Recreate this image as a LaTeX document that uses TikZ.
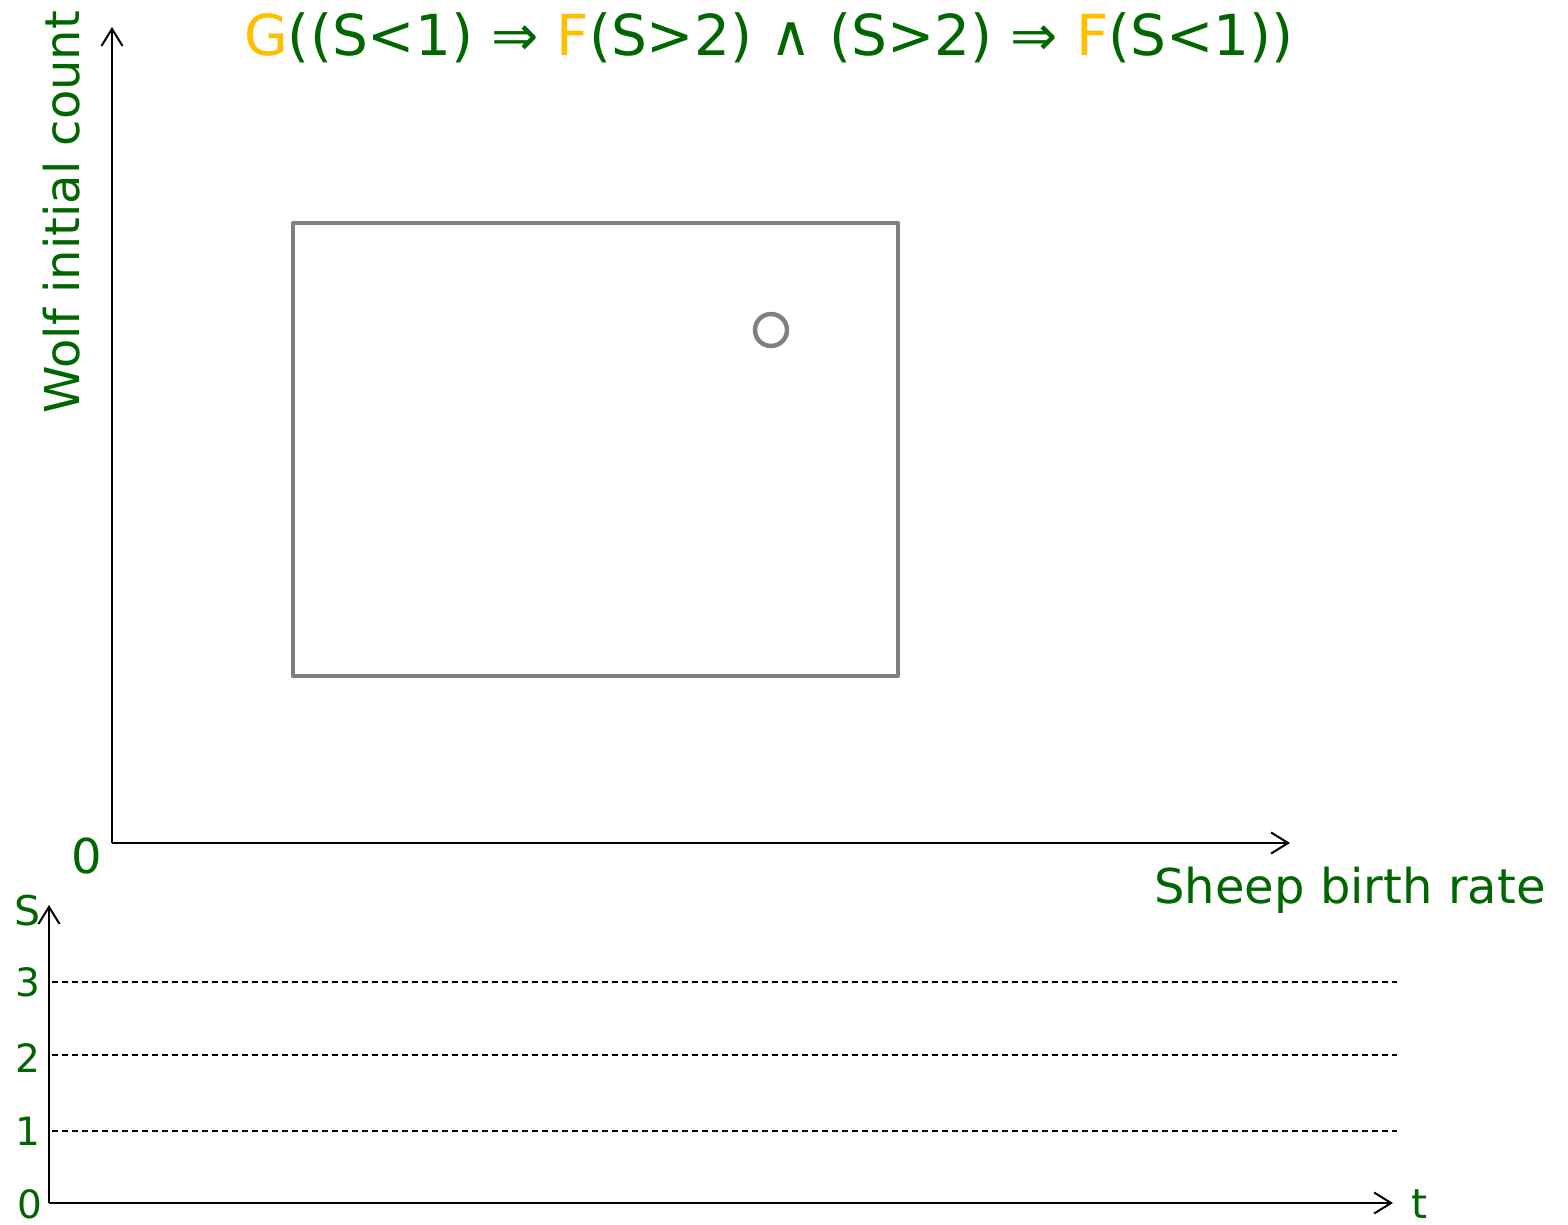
\documentclass[tikz,border=0pt]{standalone}
\usepackage{fontspec}
\setmainfont{DejaVu Sans}
\usetikzlibrary{arrows.meta}
\definecolor{lblgreen}{HTML}{006600}
\definecolor{tlorange}{HTML}{FFBF00}
\definecolor{boxgray}{HTML}{808080}
\begin{document}
\begin{tikzpicture}[x=1pt,y=-1pt,
  axis/.style={line width=2pt,-{Straight Barb[length=17pt,width=21pt]}},
  grid/.style={line width=1.2pt,dash pattern=on 6pt off 4pt},
  biglbl/.style={text=lblgreen,inner sep=0pt,font=\fontsize{48}{58}\selectfont},
  smalllbl/.style={text=lblgreen,inner sep=0pt,font=\fontsize{39}{47}\selectfont},
  midlbl/.style={text=lblgreen,inner sep=0pt,font=\fontsize{41}{49}\selectfont},
  region/.style={draw=boxgray,line width=4.5pt,line join=round,outer sep=0pt}]
\useasboundingbox (0,0) rectangle (1568,1225);
% main axes
\coordinate (O) at (112,843);
\coordinate (Ytop) at (112,27);
\coordinate (Xend) at (1290,843);
\draw[axis] (O) -- (Ytop);
\draw[axis] (O) -- (Xend);
% title
\node[anchor=base,inner sep=0pt,text=lblgreen,font=\fontsize{56.5}{68}\selectfont] (title) at (769,56)
  {\textcolor{tlorange}{G}((S<1) ⇒ \textcolor{tlorange}{F}(S>2) ∧ (S>2) ⇒ \textcolor{tlorange}{F}(S<1))};
\node[biglbl,anchor=base,rotate=90] (ylbl) at (79,212) {Wolf initial count};
\node[biglbl,anchor=base] (xlbl) at (1350,903) {Sheep birth rate};
\node[biglbl,anchor=base] (zero) at (87,873) {0};
% region and point
\node[region,draw,minimum width=605pt,minimum height=453pt,anchor=north west,inner sep=0pt] (box) at (293,223) {};
\node[region,draw,circle,minimum size=32pt,inner sep=0pt] (pt) at (771,330) {};
% bottom chart
\coordinate (O2) at (49,1203);
\coordinate (Stop) at (49,905);
\coordinate (Tend) at (1393,1203);
\draw[axis] (O2) -- (Stop);
\draw[axis] (O2) -- (Tend);
\coordinate (g3a) at (52,982);  \coordinate (g3b) at (1397,982);
\coordinate (g2a) at (52,1055); \coordinate (g2b) at (1397,1055);
\coordinate (g1a) at (52,1131); \coordinate (g1b) at (1397,1131);
\draw[grid] (g3a) -- (g3b);
\draw[grid] (g2a) -- (g2b);
\draw[grid] (g1a) -- (g1b);
\node[midlbl,anchor=base] (slbl) at (28,925) {S};
\node[midlbl,anchor=base] (tlbl) at (1420,1218) {t};
\node[smalllbl,anchor=base] (l3) at (28,996) {3};
\node[smalllbl,anchor=base] (l2) at (28,1072) {2};
\node[smalllbl,anchor=base] (l1) at (28,1145) {1};
\node[smalllbl,anchor=base] (l0) at (30,1218) {0};
\end{tikzpicture}
\end{document}
